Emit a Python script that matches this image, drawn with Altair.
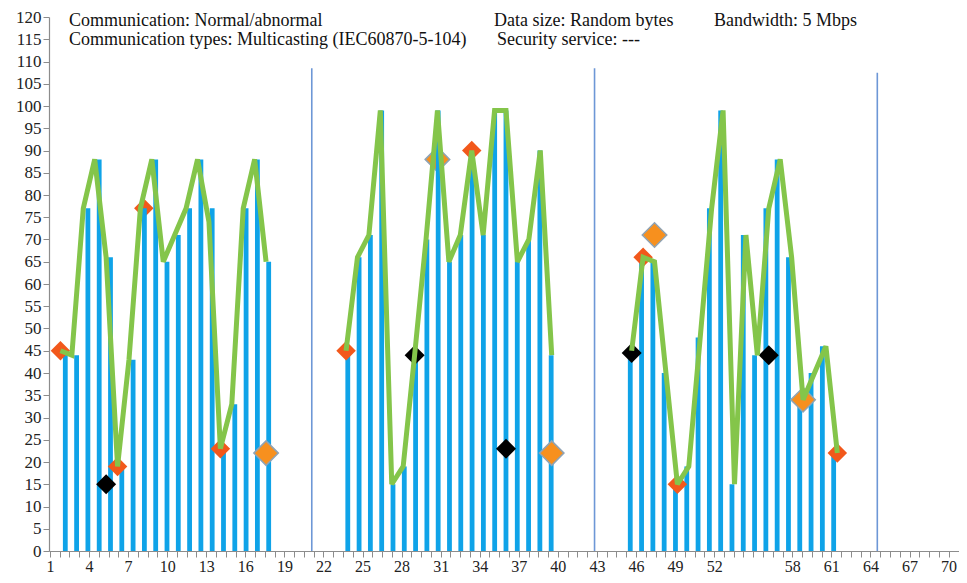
import altair as alt
import pandas as pd

# ---------------- data ----------------
group1_x = list(range(1, 20))
group2_x = list(range(26, 45))
group3_x = list(range(51, 70))

line_g1 = [45, 44, 77, 88, 66, 19, 43, 77, 88, 65, 71, 77, 88, 74, 23, 33, 77, 88, 65]
line_g2 = [45, 66, 71, 99, 15, 19, 44, 70, 99, 65, 71, 90, 71, 99, 99, 65, 70, 90, 44]
line_g3 = [45, 66, 65, 40, 15, 19, 48, 77, 99, 15, 71, 44, 77, 88, 66, 34, 40, 46, 22]

bar_g1 = [45, 44, 77, 88, 66, 19, 43, 77, 88, 65, 71, 77, 88, 77, 23, 33, 77, 88, 65]
bar_g2 = [45, 66, 71, 99, 15, 19, 44, 70, 99, 65, 71, 90, 71, 99, 99, 65, 70, 90, 44]
bar_g3 = [45, 66, 65, 40, 15, 19, 48, 77, 99, 15, 71, 44, 77, 88, 66, 34, 40, 46, 22]

# red-orange diamonds
abnormal_x = [1, 6, 15, 26, 37, 52, 55, 69]
abnormal_y = [45, 19, 23, 45, 90, 66, 15, 22]
abnormal_behind_x = [8.3]
abnormal_behind_y = [77]
# large orange diamonds
alert_x = [19, 44, 53, 66]
alert_y = [22, 22, 71, 34]
alert_behind_x = [34]
alert_behind_y = [88]
# black diamonds
black_x = [5, 32, 40, 51, 63]
black_y = [15, 44, 23, 44.5, 44]

# vertical separators
separator_x = [23, 47.75, 72.5]
separator_top = [108.5, 108.5, 107.5]

# x axis: a tick every quarter of a label step, labels every 3 (55 is not printed)
x_tick_values = [1 + 0.75 * k for k in range(0, 93)]
x_label_values = [1, 4, 7, 10, 13, 16, 19, 22, 25, 28, 31, 34, 37, 40, 43, 46, 49, 52,
                  58, 61, 64, 67, 70]
y_tick_values = list(range(0, 125, 5))

header_left = ["Communication: Normal/abnormal",
               "Communication types: Multicasting (IEC60870-5-104)"]
header_mid = ["Data size: Random bytes", "Security service: ---"]
header_right = "Bandwidth: 5 Mbps"

# ---------------- tables ----------------
bars = pd.DataFrame({
    "x": group1_x + group2_x + group3_x,
    "y": bar_g1 + bar_g2 + bar_g3,
})
lines = pd.DataFrame({
    "x": group1_x + group2_x + group3_x,
    "y": line_g1 + line_g2 + line_g3,
    "g": ["a"] * len(group1_x) + ["b"] * len(group2_x) + ["c"] * len(group3_x),
})
abn = pd.DataFrame({"x": abnormal_x, "y": abnormal_y})
abn_b = pd.DataFrame({"x": abnormal_behind_x, "y": abnormal_behind_y})
alr = pd.DataFrame({"x": alert_x, "y": alert_y})
alr_b = pd.DataFrame({"x": alert_behind_x, "y": alert_behind_y})
blk = pd.DataFrame({"x": black_x, "y": black_y})
seps = pd.DataFrame({"x": separator_x, "y0": [0] * len(separator_x), "y": separator_top})
labels = pd.DataFrame({"L": x_label_values})

SERIF = "Liberation Serif"
AXIS_GRAY = "#8c8c8c"

xs = alt.Scale(domain=[0, 79.65], nice=False, zero=False)
ys = alt.Scale(domain=[0, 120], nice=False, zero=True)
X = alt.X("x:Q", scale=xs, axis=None)
Y = alt.Y("y:Q", scale=ys, axis=alt.Axis(
    values=y_tick_values, title=None, grid=False, domainColor=AXIS_GRAY,
    tickColor=AXIS_GRAY, tickSize=6, labelFont=SERIF, labelFontSize=17,
    labelColor="#222222", labelPadding=2, labelOverlap=False, domainWidth=1.2))

sep_layer = alt.Chart(seps).mark_rule(color="#6d97d6", strokeWidth=1.6).encode(
    x=X, y=Y, y2="y0:Q")
alert_behind_layer = alt.Chart(alr_b).mark_point(
    shape="diamond", size=600, filled=True, color="#f7901e", opacity=1,
    stroke="#8fa3b5", strokeWidth=1.5).encode(x=X, y=Y)
abn_behind_layer = alt.Chart(abn_b).mark_point(
    shape="diamond", size=380, filled=True, color="#f2581b", opacity=1).encode(x=X, y=Y)
bar_layer = alt.Chart(bars).mark_bar(size=4.8, color="#0fa3e8").encode(x=X, y=Y)
alert_layer = alt.Chart(alr).mark_point(
    shape="diamond", size=600, filled=True, color="#f7901e", opacity=1,
    stroke="#8fa3b5", strokeWidth=1.5).encode(x=X, y=Y)
abn_layer = alt.Chart(abn).mark_point(
    shape="diamond", size=380, filled=True, color="#f2581b", opacity=1).encode(x=X, y=Y)
blk_layer = alt.Chart(blk).mark_point(
    shape="diamond", size=400, filled=True, color="#000000", opacity=1).encode(x=X, y=Y)
line_layer = alt.Chart(lines).mark_line(
    color="#84c54a", strokeWidth=5, strokeJoin="miter", strokeMiterLimit=3).encode(
    x=X, y=Y, detail="g:N")

label_expr = "indexof([" + ",".join(str(v) for v in x_label_values) + \
    "], datum.value) >= 0 ? format(datum.value, 'd') : ''"
xaxis_layer = alt.Chart(labels).mark_tick(opacity=0).encode(
    x=alt.X("L:Q", scale=alt.Scale(domain=[0.927, 70.8], nice=False, zero=False),
            axis=alt.Axis(values=x_tick_values, labelExpr=label_expr, orient="bottom",
                          title=None, grid=False, domainColor=AXIS_GRAY,
                          tickColor=AXIS_GRAY, tickSize=6, labelFont=SERIF,
                          labelFontSize=16, labelColor="#222222", labelPadding=1,
                          labelOverlap=False, labelFlush=False, domainWidth=1.2))
)


def header(txt, px, py):
    return alt.Chart(pd.DataFrame({"t": [txt]})).mark_text(
        align="left", baseline="middle", font=SERIF, fontSize=18, color="#111111"
    ).encode(text="t:N", x=alt.value(px), y=alt.value(py))


chart = alt.layer(
    sep_layer, alert_behind_layer, abn_behind_layer, bar_layer,
    alert_layer, abn_layer, blk_layer, line_layer, xaxis_layer,
    header(header_left[0], 20, 4), header(header_left[1], 20, 23),
    header(header_mid[0], 445, 4), header(header_mid[1], 448, 23),
    header(header_right, 665, 4),
).resolve_scale(x="independent").properties(
    width=910, height=534,
    padding={"left": 41, "top": 9, "right": 0, "bottom": 24},
    autosize=alt.AutoSizeParams(type="none"),
).configure_view(stroke=None)

chart.save("out.html", embed_options={"renderer": "svg", "actions": False})
